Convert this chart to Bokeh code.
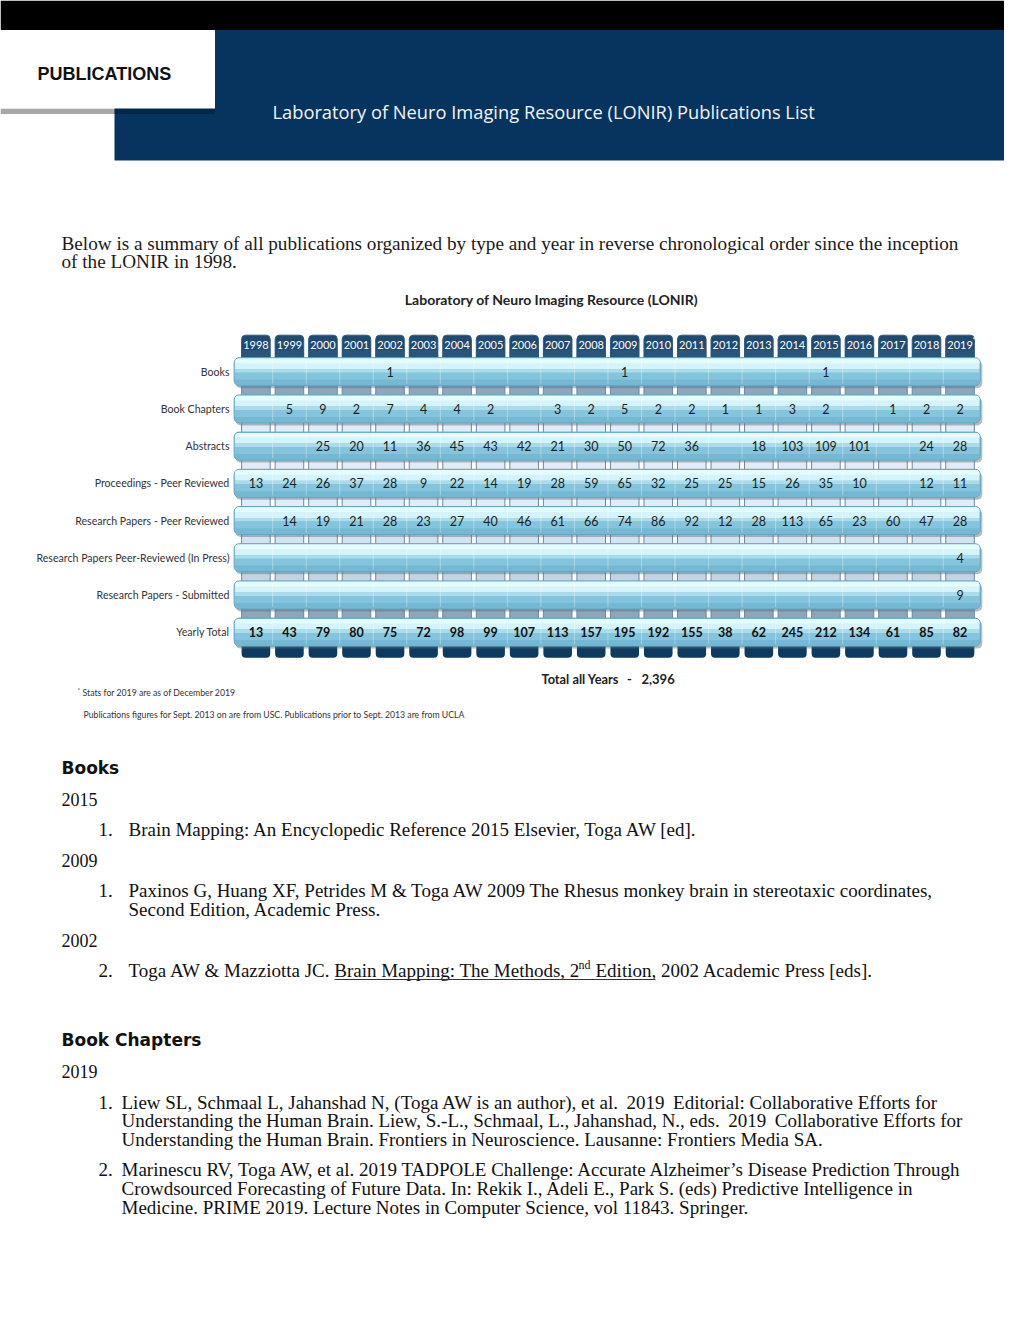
from bokeh.plotting import figure
from bokeh.models import Range1d
from bokeh.core.properties import value
from bokeh.embed import file_html
from bokeh.resources import INLINE

# ---------------- data ----------------
years = ["1998", "1999", "2000", "2001", "2002", "2003", "2004", "2005", "2006", "2007", "2008",
         "2009", "2010", "2011", "2012", "2013", "2014", "2015", "2016", "2017", "2018", "2019"]
categories = ["Books", "Book Chapters", "Abstracts", "Proceedings - Peer Reviewed",
              "Research Papers - Peer Reviewed", "Research Papers Peer-Reviewed (In Press)",
              "Research Papers - Submitted", "Yearly Total"]
N = None
books = [N, N, N, N, 1, N, N, N, N, N, N, 1, N, N, N, N, N, 1, N, N, N, N]
book_chapters = [N, 5, 9, 2, 7, 4, 4, 2, N, 3, 2, 5, 2, 2, 1, 1, 3, 2, N, 1, 2, 2]
abstracts = [N, N, 25, 20, 11, 36, 45, 43, 42, 21, 30, 50, 72, 36, N, 18, 103, 109, 101, N, 24, 28]
proceedings = [13, 24, 26, 37, 28, 9, 22, 14, 19, 28, 59, 65, 32, 25, 25, 15, 26, 35, 10, N, 12, 11]
research_papers = [N, 14, 19, 21, 28, 23, 27, 40, 46, 61, 66, 74, 86, 92, 12, 28, 113, 65, 23, 60, 47, 28]
in_press = [N, N, N, N, N, N, N, N, N, N, N, N, N, N, N, N, N, N, N, N, N, 4]
submitted = [N, N, N, N, N, N, N, N, N, N, N, N, N, N, N, N, N, N, N, N, N, 9]
yearly_total = [13, 43, 79, 80, 75, 72, 98, 99, 107, 113, 157, 195, 192, 155, 38, 62, 245, 212, 134, 61, 85, 82]
rows = [books, book_chapters, abstracts, proceedings, research_papers, in_press, submitted, yearly_total]
total_all_years = "2,396"

# ---------------- figure (page coordinates) ----------------
W, H = 1004, 1304
p = figure(width=W, height=H, x_range=Range1d(0, W), y_range=Range1d(H, 0),
           output_backend="svg", toolbar_location=None,
           x_axis_location=None, y_axis_location=None, min_border=0,
           outline_line_color=None, background_fill_color="white", border_fill_color="white")
p.grid.grid_line_color = None

# table scales: year index -> column, category index -> row
PX, X0 = 33.53, 255.4
PY, Y0 = 37.2, 371.2
p.extra_x_ranges = {"yr": Range1d(start=(0 - X0) / PX, end=(W - X0) / PX)}
p.extra_y_ranges = {"row": Range1d(start=(H - Y0) / PY, end=(0 - Y0) / PY)}
T = dict(x_range_name="yr", y_range_name="row")

def dx(v):
    return v / PX

def dy(v):
    return v / PY

nY, nR = len(years), len(categories)

# ---------------- header ----------------
p.quad(left=0, right=W, top=0, bottom=29.5, fill_color="black", line_color=None)
p.quad(left=114, right=W, top=29.5, bottom=160, fill_color="#07345f", line_color=None)
p.quad(left=0, right=114, top=108, bottom=113.5, fill_color="#a7a7a7", line_color=None)
p.quad(left=114, right=214.5, top=108, bottom=113.5, fill_color="#03264b", line_color=None)
p.quad(left=0, right=214.5, top=29.5, bottom=108, fill_color="white", line_color=None)
p.text(x=[37], y=[73], text=["PUBLICATIONS"], text_font=value("Liberation Sans"),
       text_font_style="bold", text_font_size="18px", text_color="#111111",
       text_baseline="middle", text_align="left")
p.text(x=[272], y=[111], text=["Laboratory of Neuro Imaging Resource (LONIR) Publications List"],
       text_font=value("Open Sans"), text_font_size="18.3px", text_color="#f2f5f8",
       text_baseline="middle", text_align="left")

# ---------------- serif body text ----------------
SERIF = value("Liberation Serif")
p.text(x=[61, 61], y=[243, 261],
       text=["Below is a summary of all publications organized by type and year in reverse chronological order since the inception",
             "of the LONIR in 1998."],
       text_font=SERIF, text_font_size="19.2px", text_color="#1a1a1a",
       text_baseline="middle", text_align="left")

# ---------------- chart title ----------------
p.text(x=[551], y=[299], text=["Laboratory of Neuro Imaging Resource (LONIR)"],
       text_font=value("Lato"), text_font_size="14px", text_font_style="bold",
       text_color="#222222", text_baseline="middle", text_align="center")

# column strips between rows
sl, sr, st, sb, sc = [], [], [], [], []
gap_colors = ["#8ca7be", "#e2ecf6", "#e2ecf6", "#e2ecf6", "#d5e2ef", "#c3d4e4", "#8fa5ba"]
for g in range(nR - 1):
    for i in range(nY):
        sl.append(i - dx(14.3)); sr.append(i + dx(14.3))
        st.append(g + dy(10)); sb.append(g + 1 - dy(10))
        sc.append(gap_colors[g])
p.quad(left=sl, right=sr, top=st, bottom=sb, fill_color=sc, line_color="#6f879e",
       line_width=1, **T)

# top tabs (years) and bottom tabs
xi = list(range(nY))
p.quad(left=[i - dx(14.3) for i in xi], right=[i + dx(14.3) for i in xi],
       top=[-dy(36.5)] * nY, bottom=[0] * nY, fill_color="#1f4b71",
       line_color="#2f5c82", border_radius=(4, 4, 0, 0), **T)
p.quad(left=[i - dx(14.3) for i in xi], right=[i + dx(14.3) for i in xi],
       top=[-dy(22)] * nY, bottom=[0] * nY, fill_color="#27557b",
       line_color=None, **T)
p.quad(left=[i - dx(14.3) for i in xi], right=[i + dx(14.3) for i in xi],
       top=[nR - 1] * nY, bottom=[nR - 1 + dy(25.6)] * nY, fill_color="#0e3a60",
       line_color=None, border_radius=(0, 0, 4, 4), **T)
p.text(x=xi, y=[-dy(27)] * nY, text=years, text_font=value("Lato"), text_font_size="11px",
       text_color="#ffffff", text_baseline="middle", text_align="center", **T)
p.text(x=[nY - 1 + dx(14)], y=[-dy(32)], text=["*"], text_font=value("Lato"),
       text_font_size="7px", text_color="#ffffff", text_baseline="middle", text_align="center", **T)

# row bars (glossy)
rj = list(range(nR))
bl = -0.5 - dx(5)
br = nY - 0.5 + dx(3.5)
p.quad(left=[bl + dx(1.5)] * nR, right=[br + dx(2)] * nR, top=[j - dy(11) for j in rj],
       bottom=[j + dy(16.5) for j in rj], fill_color="#5d6d79", fill_alpha=0.45,
       line_color=None, border_radius=5, **T)
p.quad(left=[bl] * nR, right=[br] * nR, top=[j - dy(14) for j in rj],
       bottom=[j + dy(14) for j in rj], fill_color="#78bdd7", line_color="#62a6c3",
       line_width=1, border_radius=5, **T)
bands = [(-13.2, -2.5, "#d5f3fa", (4, 4, 0, 0)), (-13.2, -8.5, "#e5fbfe", (4, 4, 0, 0)),
         (-2.5, 1.0, "#abdcea", 0), (1.0, 8.0, "#84c4dc", 0), (8.0, 13.2, "#74b8d4", (0, 0, 4, 4))]
for t0, t1, col, rad in bands:
    p.quad(left=[bl + dx(0.8)] * nR, right=[br - dx(0.8)] * nR, top=[j + dy(t0) for j in rj],
           bottom=[j + dy(t1) for j in rj], fill_color=col, line_color=None,
           border_radius=rad, **T)
# faint column separators inside the bars
vx0, vy0, vx1, vy1 = [], [], [], []
for j in rj:
    for i in range(nY - 1):
        vx0.append(i + 0.5); vx1.append(i + 0.5)
        vy0.append(j - dy(12)); vy1.append(j + dy(12))
p.segment(x0=vx0, y0=vy0, x1=vx1, y1=vy1, line_color="#ffffff", line_alpha=0.35,
          line_width=1, **T)

# row labels
p.text(x=[229] * nR, y=rj, text=categories, text_font=value("Lato"), text_font_size="10.6px",
       text_color="#333333", text_baseline="middle", text_align="right", y_range_name="row")

# cell values
cx, cy, ct = [], [], []
tx, ty, tt = [], [], []
for j, row in enumerate(rows):
    for i, v in enumerate(row):
        if v is None:
            continue
        if j == nR - 1:
            tx.append(i); ty.append(j); tt.append(str(v))
        else:
            cx.append(i); cy.append(j); ct.append(str(v))
p.text(x=cx, y=cy, text=ct, text_font=value("Lato"), text_font_size="12.5px",
       text_color="#1e1e1e", text_baseline="middle", text_align="center", **T)
p.text(x=tx, y=ty, text=tt, text_font=value("Lato"), text_font_size="12.5px",
       text_font_style="bold", text_color="#111111", text_baseline="middle",
       text_align="center", **T)

# totals / footnotes
p.text(x=[541], y=[678], text=["Total all Years"], text_font=value("Lato"),
       text_font_size="12.8px", text_font_style="bold", text_color="#222222",
       text_baseline="middle", text_align="left")
p.text(x=[629], y=[678], text=["-"], text_font=value("Lato"), text_font_size="13px",
       text_font_style="bold", text_color="#222222", text_baseline="middle", text_align="center")
p.text(x=[641], y=[678], text=[total_all_years], text_font=value("Lato"),
       text_font_size="13px", text_font_style="bold", text_color="#222222",
       text_baseline="middle", text_align="left")
p.text(x=[77], y=[689], text=["*"], text_font=value("Lato"), text_font_size="6.5px",
       text_color="#333333", text_baseline="middle", text_align="left")
p.text(x=[82, 83], y=[692, 714],
       text=["Stats for 2019 are as of December 2019",
             "Publications figures for Sept. 2013 on are from USC. Publications prior to Sept. 2013 are from UCLA"],
       text_font=value("Lato"), text_font_size="8.7px", text_color="#333333",
       text_baseline="middle", text_align="left")

# ---------------- sections ----------------
p.text(x=[61, 61], y=[767, 1039], text=["Books", "Book Chapters"], text_font=value("DejaVu Sans"),
       text_font_size="17px", text_font_style="bold", text_color="#111111",
       text_baseline="middle", text_align="left")
p.text(x=[61, 61, 61, 61], y=[799, 860, 940, 1071], text=["2015", "2009", "2002", "2019"],
       text_font=SERIF, text_font_size="18px", text_color="#111111",
       text_baseline="middle", text_align="left")
p.text(x=[98, 98, 98, 98, 98], y=[829, 890, 970, 1102, 1169], text=["1.", "1.", "2.", "1.", "2."],
       text_font=SERIF, text_font_size="19px", text_color="#111111",
       text_baseline="middle", text_align="left")
lines_x = [128, 128, 128, 128, 121, 121, 121, 121, 121, 121]
lines_y = [829, 890, 909, 970, 1102, 1120, 1139, 1169, 1188, 1207]
lines_t = ["Brain Mapping: An Encyclopedic Reference 2015 Elsevier, Toga AW [ed].",
           "Paxinos G, Huang XF, Petrides M & Toga AW 2009 The Rhesus monkey brain in stereotaxic coordinates,",
           "Second Edition, Academic Press.",
           "Toga AW & Mazziotta JC. Brain Mapping: The Methods, 2",
           "Liew SL, Schmaal L, Jahanshad N, (Toga AW is an author), et al.\u2009 2019\u2009 Editorial: Collaborative Efforts for",
           "Understanding the Human Brain. Liew, S.-L., Schmaal, L., Jahanshad, N., eds.\u2009 2019\u2009 Collaborative Efforts for",
           "Understanding the Human Brain. Frontiers in Neuroscience. Lausanne: Frontiers Media SA.",
           "Marinescu RV, Toga AW, et al. 2019 TADPOLE Challenge: Accurate Alzheimer\u2019s Disease Prediction Through",
           "Crowdsourced Forecasting of Future Data. In: Rekik I., Adeli E., Park S. (eds) Predictive Intelligence in",
           "Medicine. PRIME 2019. Lecture Notes in Computer Science, vol 11843. Springer."]
p.text(x=lines_x, y=lines_y, text=lines_t, text_font=SERIF, text_font_size="19px",
       text_color="#111111", text_baseline="middle", text_align="left")
p.text(x=[578], y=[964], text=["nd"], text_font=SERIF, text_font_size="12px",
       text_color="#111111", text_baseline="middle", text_align="left")
p.text(x=[595], y=[970], text=["Edition, 2002 Academic Press [eds]."], text_font=SERIF,
       text_font_size="19px", text_color="#111111", text_baseline="middle", text_align="left")
p.segment(x0=[334], y0=[979], x1=[655], y1=[979], line_color="#333333", line_width=1)

open("out.html", "w").write(file_html(p, INLINE))
